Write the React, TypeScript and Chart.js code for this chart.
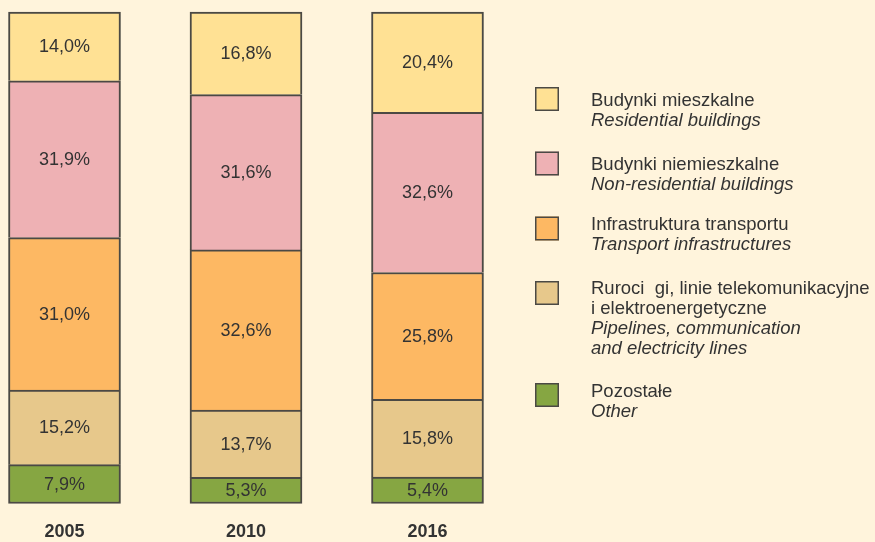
import React, { useEffect, useRef } from "react";
import { Chart, registerables } from "chart.js";

Chart.register(...registerables);

// ---- data ----
const years = ["2005", "2010", "2016"];
const residential = [14.0, 16.8, 20.4];
const nonResidential = [31.9, 31.6, 32.6];
const transport = [31.0, 32.6, 25.8];
const pipelines = [15.2, 13.7, 15.8];
const other = [7.9, 5.3, 5.4];

const labelsPl = [
  ["Budynki mieszkalne"],
  ["Budynki niemieszkalne"],
  ["Infrastruktura transportu"],
  ["Ruroci  gi, linie telekomunikacyjne", "i elektroenergetyczne"],
  ["Pozostałe"],
];
const labelsEn = [
  ["Residential buildings"],
  ["Non-residential buildings"],
  ["Transport infrastructures"],
  ["Pipelines, communication", "and electricity lines"],
  ["Other"],
];

const colors = ["#FFE194", "#EEB1B4", "#FDB863", "#E7C88B", "#86A642"];
const BORDER = "#4b4944";
const BG = "#FFF4DC";
const TEXT = "#333333";
const FONT = '"Liberation Sans", Arial, Helvetica, sans-serif';

const fmt = (v: number) => v.toFixed(1).replace(".", ",") + "%";

const valueLabels = {
  id: "valueLabels",
  afterDatasetsDraw(chart: any) {
    const ctx = chart.ctx;
    ctx.save();
    ctx.font = `18px ${FONT}`;
    ctx.fillStyle = TEXT;
    ctx.textAlign = "center";
    ctx.textBaseline = "middle";
    chart.data.datasets.forEach((ds: any, di: number) => {
      const meta = chart.getDatasetMeta(di);
      meta.data.forEach((el: any, i: number) => {
        const p = el.getProps(["x", "y", "base"], true);
        ctx.fillText(fmt(ds.data[i]), p.x, (p.y + p.base) / 2 + 1);
      });
    });
    ctx.restore();
  },
};

const sideLegend = {
  id: "sideLegend",
  afterDraw(chart: any) {
    const ctx = chart.ctx;
    const sqX = 535;
    const sqSize = 24;
    const textX = 591;
    const sqTops = [87, 151.5, 216.5, 281, 383];
    const baselines = [106, 170, 229.5, 293.5, 397];
    const lh = 20;
    ctx.save();
    for (let k = 0; k < 5; k++) {
      ctx.fillStyle = colors[k];
      ctx.fillRect(sqX, sqTops[k], sqSize, sqSize);
      ctx.strokeStyle = BORDER;
      ctx.lineWidth = 1.5;
      ctx.strokeRect(sqX + 0.75, sqTops[k] + 0.75, sqSize - 1.5, sqSize - 1.5);
      ctx.fillStyle = TEXT;
      ctx.textAlign = "left";
      ctx.textBaseline = "alphabetic";
      let y = baselines[k];
      ctx.font = `18.5px ${FONT}`;
      for (const line of labelsPl[k]) {
        ctx.fillText(line, textX, y);
        y += lh;
      }
      ctx.font = `italic 18.5px ${FONT}`;
      for (const line of labelsEn[k]) {
        ctx.fillText(line, textX, y);
        y += lh;
      }
    }
    ctx.restore();
  },
};

export default function App() {
  const ref = useRef<HTMLCanvasElement | null>(null);

  useEffect(() => {
    document.body.style.margin = "0";
    document.body.style.background = BG;
    if (!ref.current) return;
    // bottom-to-top stacking order
    const stack = [
      { label: "Pozostałe / Other", data: other, color: colors[4] },
      { label: "Rurociągi / Pipelines", data: pipelines, color: colors[3] },
      { label: "Infrastruktura transportu", data: transport, color: colors[2] },
      { label: "Budynki niemieszkalne", data: nonResidential, color: colors[1] },
      { label: "Budynki mieszkalne", data: residential, color: colors[0] },
    ];
    const chart = new Chart(ref.current, {
      type: "bar",
      data: {
        labels: years,
        datasets: stack.map((s, i) => ({
          label: s.label,
          data: s.data,
          backgroundColor: s.color,
          borderColor: BORDER,
          borderWidth: 2,
          borderSkipped: i === 0 ? false : "start",
          barThickness: 112,
          clip: false as any,
        })),
      },
      options: {
        responsive: false,
        animation: false,
        devicePixelRatio: 1,
        layout: { padding: { left: 64.5, right: 447.5, top: 12, bottom: -18.5 } },
        plugins: {
          legend: { display: false },
          tooltip: { enabled: false },
        },
        scales: {
          x: {
            type: "category",
            stacked: true,
            offset: false,
            grid: { display: false, drawTicks: false },
            border: { display: false },
            ticks: {
              padding: 17.7,
              color: TEXT,
              font: { family: FONT, size: 18, weight: "bold" },
            },
          },
          y: {
            stacked: true,
            display: false,
            min: 0,
            max: 100,
          },
        },
      },
      plugins: [valueLabels, sideLegend],
    });
    return () => chart.destroy();
  }, []);

  return (
    <div style={{ position: "absolute", left: 0, top: 0, width: 875, height: 542, background: BG }}>
      <canvas ref={ref} width={875} height={542} style={{ display: "block" }} />
    </div>
  );
}
